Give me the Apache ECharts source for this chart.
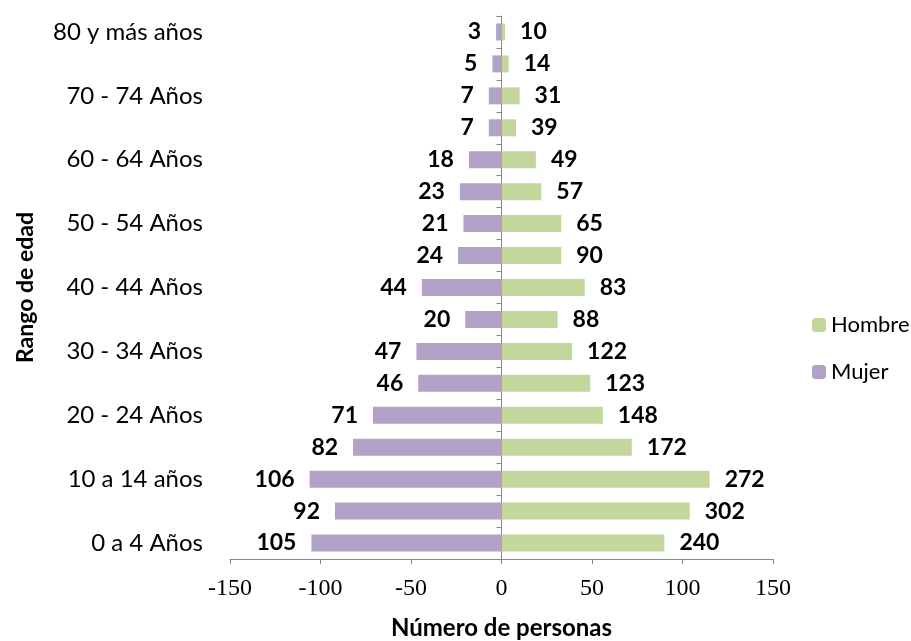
<!DOCTYPE html>
<html>
<head>
<meta charset="utf-8">
<script src="https://cdn.jsdelivr.net/npm/echarts@6/dist/echarts.min.js"></script>
<style>html,body{margin:0;padding:0;background:#fff;}#c{width:911px;height:641px;}</style>
</head>
<body>
<div id="c"></div>
<script>
var categories = ["0 a 4 Años","5 a 9 años","10 a 14 años","15 - 19 Años","20 - 24 Años","25 - 29 Años","30 - 34 Años","35 - 39 Años","40 - 44 Años","45 - 49 Años","50 - 54 Años","55 - 59 Años","60 - 64 Años","65 - 69 Años","70 - 74 Años","75 - 79 Años","80 y más años"];
var mujerValues = [-105, -92, -106, -82, -71, -46, -47, -20, -44, -24, -21, -23, -18, -7, -7, -5, -3];
var mujerLabels = [105, 92, 106, 82, 71, 46, 47, 20, 44, 24, 21, 23, 18, 7, 7, 5, 3];
var hombreValues = [90, 104, 115, 72, 56, 49, 39, 31, 46, 33, 33, 22, 19, 8, 10, 4, 2];
var hombreLabels = [240, 302, 272, 172, 148, 123, 122, 88, 83, 90, 65, 57, 49, 39, 31, 14, 10];
var xTicks = [-150, -100, -50, 0, 50, 100, 150];

var chart = echarts.init(document.getElementById('c'));
var valueLabel = {fontFamily: 'Lato', fontSize: 23, fontWeight: 'bold', color: '#000'};
chart.setOption({
  animation: false,
  grid: {left: 230, right: 138, top: 16, bottom: 82, containLabel: false, outerBoundsMode: 'none'},
  legend: {
    orient: 'vertical', left: 807, top: 309, itemWidth: 14, itemHeight: 14, itemGap: 25,
    data: ['Hombre', 'Mujer'],
    textStyle: {fontFamily: 'Lato', fontSize: 22, color: '#000'}
  },
  xAxis: {
    type: 'value', min: -150, max: 150, interval: 50,
    splitLine: {show: false},
    axisLine: {show: true, lineStyle: {color: '#868686'}},
    axisTick: {show: true, length: 5, lineStyle: {color: '#868686'}},
    axisLabel: {fontFamily: 'Liberation Serif', fontSize: 24, color: '#000', margin: 18,
      formatter: function (v) { return xTicks.indexOf(v) >= 0 ? String(v) : ''; }},
    name: 'Número de personas', nameLocation: 'middle', nameGap: 57,
    nameTextStyle: {fontFamily: 'Lato', fontSize: 24, fontWeight: 'bold', color: '#000'}
  },
  yAxis: [{
    type: 'category', data: categories,
    axisLine: {show: false, onZero: false}, axisTick: {show: false},
    axisLabel: {fontFamily: 'Lato', fontSize: 24, color: '#000', margin: 27, interval: 1},
    name: 'Rango de edad', nameLocation: 'middle', nameGap: 193, nameRotate: 90,
    nameTextStyle: {fontFamily: 'Lato', fontSize: 23, fontWeight: 'bold', color: '#000'}
  }, {
    type: 'category', data: categories, position: 'left',
    axisLine: {show: true, onZero: true, lineStyle: {color: '#868686'}},
    axisTick: {show: true, length: 5, lineStyle: {color: '#868686'}},
    axisLabel: {show: false}
  }],
  series: [{
    name: 'Hombre', type: 'bar', data: hombreValues, barWidth: 17, barGap: '-100%',
    itemStyle: {color: '#c3d69b'},
    label: Object.assign({show: true, position: 'right', distance: 15, formatter: function (p) { return hombreLabels[p.dataIndex]; }}, valueLabel)
  }, {
    name: 'Mujer', type: 'bar', data: mujerValues, barWidth: 17, barGap: '-100%',
    itemStyle: {color: '#b3a2c7'},
    label: Object.assign({show: true, position: 'left', distance: 15, formatter: function (p) { return mujerLabels[p.dataIndex]; }}, valueLabel)
  }]
});
</script>
</body>
</html>
